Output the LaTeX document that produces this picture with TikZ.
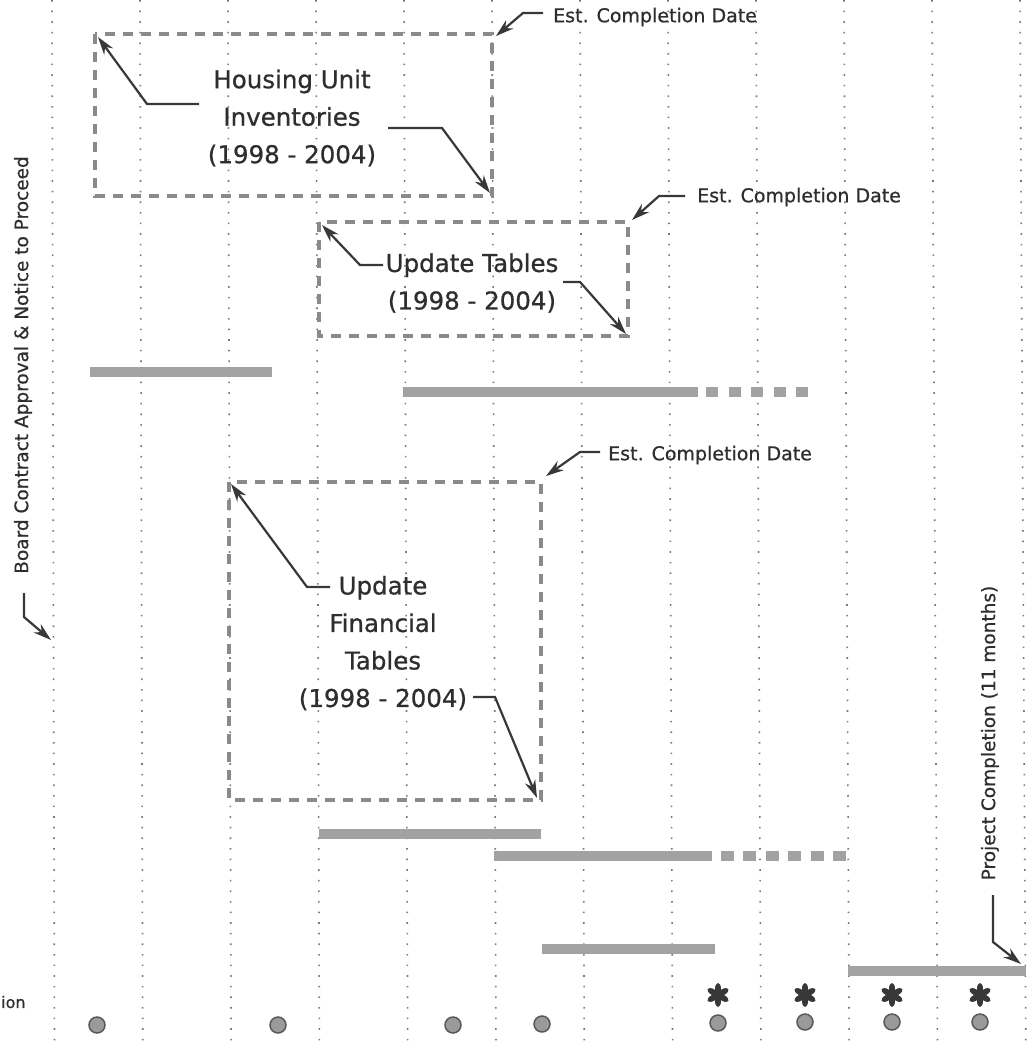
\documentclass[tikz,border=0pt]{standalone}
\usepackage{fontspec}
\setmainfont{DejaVu Sans}[FakeBold=0.7]
\usetikzlibrary{arrows.meta}
\definecolor{txtc}{HTML}{2E2E2E}
\definecolor{arrc}{HTML}{383838}
\definecolor{barc}{HTML}{A2A2A2}
\definecolor{boxc}{HTML}{8A8A8A}
\definecolor{dotc}{HTML}{7A7A7A}
\definecolor{dotfill}{HTML}{9A9A9A}
\tikzset{
  gridline/.style={draw=dotc, line width=1.6pt, dash pattern=on 1.6pt off 9pt},
  barline/.style={draw=barc, line width=9.5pt},
  dashbarA/.style={draw=barc, line width=9.5pt, dash pattern=on 12pt off 10.5pt},
  dashbarB/.style={draw=barc, line width=9.5pt, dash pattern=on 13pt off 9.4pt},
  tbox/.style={draw=boxc, line width=4.2pt, dash pattern=on 10pt off 8pt},
  lead/.style={draw=arrc, line width=2.2pt, -{Stealth[length=18pt,width=11pt]}},
  lbl/.style={text=txtc, align=center, inner sep=0pt, font=\fontsize{24.5}{37.5}\selectfont},
  est/.style={text=txtc, anchor=west, inner sep=0pt, font=\fontsize{19}{22}\selectfont},
  rot/.style={text=txtc, inner sep=0pt, rotate=90, font=\fontsize{18.5}{22}\selectfont},
  milestone/.style={circle, fill=dotfill, draw=black!65, line width=1.5pt, minimum size=16pt, inner sep=0pt},
}
\begin{document}
\begin{tikzpicture}[x=1pt, y=-1pt]
\fill[white] (0,0) rectangle (1026,1047);
\useasboundingbox (0,0) rectangle (1026,1047);

% dotted column lines
\foreach \k in {0,...,11} \draw[gridline] ({52+88*\k},0) -- ({54.5+88.3*\k},1047);

% bars
\draw[barline] (90,372) -- (272,372);
\draw[barline] (403,392) -- (698,392);
\draw[dashbarA] (706,392) -- (810,392);
\draw[barline] (319,834) -- (541,834);
\draw[barline] (494,856) -- (712,856);
\draw[dashbarB] (721,856) -- (848,856);
\draw[barline] (542,949) -- (715,949);
\draw[barline] (848,971) -- (1026,971);

% dashed boxes
\draw[tbox] (95,34) rectangle (492,196);
\draw[tbox] (319,222) rectangle (628,336);
\draw[tbox] (229,482) rectangle (541,800);

\coordinate (b1nw) at (98,37);
\coordinate (b1ne) at (496,36);
\coordinate (b1se) at (490,193);
\coordinate (b2nw) at (322,225);
\coordinate (b2ne) at (632,220);
\coordinate (b2se) at (626,334);
\coordinate (b3nw) at (231,484);
\coordinate (b3ne) at (546,476);
\coordinate (b3se) at (537,798);

% labels
\node[lbl] (t1) at (292,118) {Housing Unit\\Inventories\\(1998 - 2004)};
\node[lbl] (t2) at (472,283) {Update Tables\\(1998 - 2004)};
\node[lbl] (t3) at (383,643) {Update\\Financial\\Tables\\(1998 - 2004)};

\node[est] (e1) at (553,17) {Est. Completion Date};
\node[est] (e2) at (697,197) {Est. Completion Date};
\node[est] (e3) at (608,455) {Est. Completion Date};

% leaders
\draw[lead] (199,104) -- (147,104) -- (b1nw);
\draw[lead] (388,128) -- (442,128) -- (b1se);
\draw[lead] (e1.west) ++(-10,-4) -- ++(-20,0) -- (b1ne);
\draw[lead] (383,265) -- (360,265) -- (b2nw);
\draw[lead] (563,282) -- (580,282) -- (b2se);
\draw[lead] (e2.west) ++(-12,-1) -- ++(-26,0) -- (b2ne);
\draw[lead] (330,587) -- (307,587) -- (b3nw);
\draw[lead] (473,697) -- (495,697) -- (b3se);
\draw[lead] (e3.west) ++(-8,-3) -- ++(-20,0) -- (b3ne);

% rotated texts
\node[rot] (board) at (23,365) {Board Contract Approval \& Notice to Proceed};
\coordinate (boardtip) at (51,640);
\draw[lead] (24,593) -- (24,617) -- (boardtip);
\node[rot] (proj) at (990,733) {Project Completion (11 months)};
\coordinate (projtip) at (1021,964);
\draw[lead] (993,895) -- (993,942) -- (projtip);

% cut-off legend text
\node[text=txtc, anchor=west, inner sep=0pt, font=\fontsize{16}{18}\selectfont] (leg) at (1,1002) {ion};

% milestones
\foreach \x/\y [count=\i] in {97/1025,278/1025,453/1025,542/1024,718/1023,805/1022,892/1022,980/1022}
  \node[milestone] (m\i) at (\x,\y) {};

% asterisks
\foreach \x in {718,805,892,980}
  \foreach \a in {90,30,-30,-90,150,210}
    \fill[arrc, rotate around={\a:(\x,995)}] (\x+6,995) ellipse (6pt and 3pt);
\end{tikzpicture}
\end{document}
